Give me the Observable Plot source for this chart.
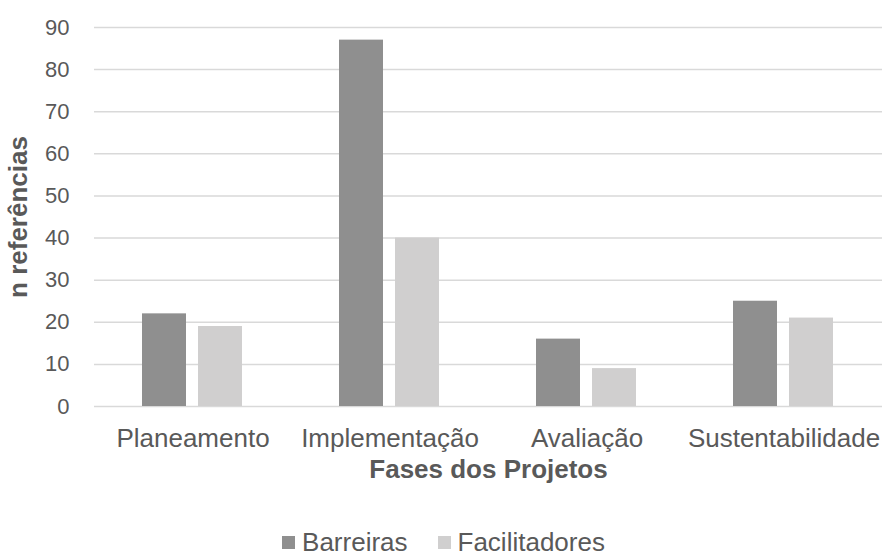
<!DOCTYPE html>
<html>
<head>
<meta charset="utf-8">
<script src="https://cdn.jsdelivr.net/npm/d3@7"></script>
<script src="https://cdn.jsdelivr.net/npm/@observablehq/plot@0.6"></script>
<style>
  html, body { margin: 0; padding: 0; background: #fff; }
  body { width: 883px; font-family: "Liberation Sans", Arial, sans-serif; }
  #legend { display: flex; justify-content: center; align-items: center; gap: 30px;
    font-size: 26px; line-height: 20px; color: #595959; padding-left: 4px; }
  #legend .item { display: flex; align-items: center; gap: 7px; }
  #legend .sw { width: 13px; height: 13px; display: inline-block; }
</style>
</head>
<body>
<div id="chart"></div>
<div id="legend"></div>
<script>
const fases = ["Planeamento", "Implementação", "Avaliação", "Sustentabilidade"];
const series = ["Barreiras", "Facilitadores"];
const barreiras = [22, 87, 16, 25];
const facilitadores = [19, 40, 9, 21];
const colors = ["#8f8f8f", "#d0cfcf"];
const yTicks = [0, 10, 20, 30, 40, 50, 60, 70, 80, 90];
const yTitle = "n referências";
const xTitle = "Fases dos Projetos";

const data = [];
fases.forEach((f, i) => {
  data.push({fase: f, serie: series[0], valor: barreiras[i]});
  data.push({fase: f, serie: series[1], valor: facilitadores[i]});
});

const textColor = "#595959";
const plot = Plot.plot({
  width: 883,
  height: 532,
  marginTop: 27,
  marginBottom: 126,
  marginLeft: 92,
  marginRight: 0,
  style: {fontFamily: '"Liberation Sans", Arial, sans-serif', color: textColor, background: "#fff"},
  fx: {domain: fases, padding: 0},
  x: {domain: series, paddingInner: 0.21, paddingOuter: 0.84, axis: null},
  y: {domain: [0, 90]},
  color: {domain: series, range: colors},
  marks: [
    Plot.gridY(yTicks, {stroke: "#d9d9d9", strokeOpacity: 1, strokeWidth: 1.5}),
    Plot.barY(data, {fx: "fase", x: "serie", y: "valor", fill: "serie"}),
    Plot.axisY(yTicks, {tickSize: 0, tickPadding: 25, fontSize: 22, fill: textColor,
      label: yTitle, labelAnchor: "center", labelOffset: 86}),
    Plot.axisFx({anchor: "bottom", tickSize: 0, tickPadding: 22, fontSize: 26, fill: textColor,
      label: xTitle, labelAnchor: "center", labelOffset: 71})
  ]
});
document.getElementById("chart").appendChild(plot);

// bold axis titles, without arrows
plot.querySelectorAll("text").forEach(t => {
  const s = t.textContent;
  [yTitle, xTitle].forEach(title => {
    if (s.includes(title)) {
      t.textContent = title;
      t.setAttribute("font-weight", "bold");
      t.setAttribute("font-size", "26");
    }
  });
});

const legend = document.getElementById("legend");
series.forEach((s, i) => {
  const item = document.createElement("span");
  item.className = "item";
  const sw = document.createElement("span");
  sw.className = "sw";
  sw.style.background = plot.scale("color").range[i];
  const label = document.createElement("span");
  label.textContent = s;
  item.appendChild(sw);
  item.appendChild(label);
  legend.appendChild(item);
});
</script>
</body>
</html>
